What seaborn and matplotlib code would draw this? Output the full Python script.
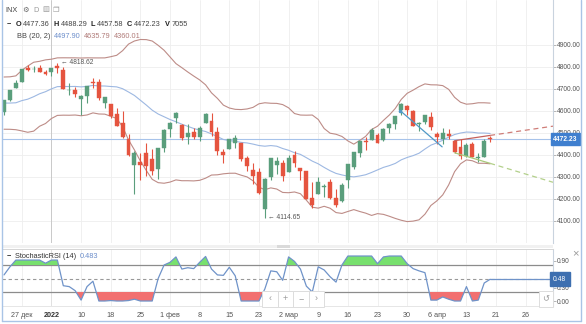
import matplotlib
matplotlib.use("Agg")
import matplotlib.pyplot as plt
from matplotlib.patches import Rectangle
from matplotlib.lines import Line2D
import numpy as np
import pandas as pd
import seaborn as sns

# ---------------- data: S&P 500 (INX), daily sessions ----------------
sessions = [
    "2021-12-21", "2021-12-22", "2021-12-23", "2021-12-27", "2021-12-28", "2021-12-29", "2021-12-30", "2021-12-31",
    "2022-01-03", "2022-01-04", "2022-01-05", "2022-01-06", "2022-01-07", "2022-01-10", "2022-01-11", "2022-01-12",
    "2022-01-13", "2022-01-14", "2022-01-18", "2022-01-19", "2022-01-20", "2022-01-21", "2022-01-24", "2022-01-25",
    "2022-01-26", "2022-01-27", "2022-01-28", "2022-01-31", "2022-02-01", "2022-02-02", "2022-02-03", "2022-02-04",
    "2022-02-07", "2022-02-08", "2022-02-09", "2022-02-10", "2022-02-11", "2022-02-14", "2022-02-15", "2022-02-16",
    "2022-02-17", "2022-02-18", "2022-02-22", "2022-02-23", "2022-02-24", "2022-02-25", "2022-02-28", "2022-03-01",
    "2022-03-02", "2022-03-03", "2022-03-04", "2022-03-07", "2022-03-08", "2022-03-09", "2022-03-10", "2022-03-11",
    "2022-03-14", "2022-03-15", "2022-03-16", "2022-03-17", "2022-03-18", "2022-03-21", "2022-03-22", "2022-03-23",
    "2022-03-24", "2022-03-25", "2022-03-28", "2022-03-29", "2022-03-30", "2022-03-31", "2022-04-01", "2022-04-04",
    "2022-04-05", "2022-04-06", "2022-04-07", "2022-04-08", "2022-04-11", "2022-04-12", "2022-04-13", "2022-04-14",
    "2022-04-18", "2022-04-19", "2022-04-20",
]
opens = [
    4594.96, 4650.36, 4703.96, 4733.99, 4795.49, 4788.64, 4794.23, 4775.21,
    4778.14, 4804.51, 4787.99, 4693.39, 4697.66, 4655.34, 4669.14, 4728.59,
    4733.56, 4637.99, 4632.24, 4588.03, 4547.35, 4471.38, 4356.32, 4366.64,
    4408.43, 4380.58, 4336.19, 4431.79, 4519.57, 4566.39, 4535.41, 4482.79,
    4505.75, 4480.02, 4547.00, 4553.24, 4506.27, 4412.61, 4429.28, 4455.75,
    4456.06, 4384.57, 4332.74, 4324.93, 4155.77, 4298.38, 4354.17, 4363.14,
    4322.56, 4401.31, 4342.12, 4327.01, 4202.66, 4223.10, 4252.55, 4279.50,
    4202.75, 4188.82, 4288.14, 4345.11, 4407.34, 4462.40, 4469.10, 4493.10,
    4469.98, 4522.66, 4541.09, 4602.86, 4624.20, 4599.02, 4540.32, 4547.97,
    4572.45, 4494.17, 4474.65, 4494.15, 4462.64, 4437.59, 4394.30, 4449.12,
    4385.63, 4390.63, 4477.36,
]
highs = [
    4651.14, 4697.67, 4740.74, 4791.49, 4807.02, 4804.06, 4808.93, 4786.83,
    4796.64, 4818.62, 4797.70, 4725.01, 4707.95, 4673.02, 4714.13, 4748.83,
    4744.13, 4665.13, 4632.24, 4611.55, 4602.11, 4494.52, 4417.35, 4411.01,
    4453.23, 4428.74, 4432.72, 4516.89, 4550.49, 4595.31, 4542.88, 4539.66,
    4521.86, 4531.32, 4590.03, 4588.92, 4526.33, 4426.22, 4472.77, 4489.55,
    4456.06, 4394.60, 4362.12, 4341.51, 4294.73, 4385.34, 4388.84, 4378.45,
    4401.48, 4416.78, 4342.12, 4327.01, 4276.94, 4299.40, 4268.28, 4291.86,
    4247.57, 4271.05, 4358.90, 4412.67, 4465.40, 4481.75, 4522.00, 4501.07,
    4520.58, 4546.03, 4575.65, 4637.30, 4627.77, 4603.07, 4548.70, 4583.50,
    4593.45, 4503.94, 4521.16, 4520.41, 4464.35, 4471.00, 4453.92, 4460.46,
    4410.31, 4471.03, 4488.29,
]
lows = [
    4583.16, 4645.53, 4703.96, 4733.99, 4780.04, 4778.08, 4775.33, 4765.75,
    4758.17, 4774.27, 4699.44, 4671.26, 4662.74, 4582.24, 4638.27, 4706.71,
    4650.29, 4614.75, 4568.70, 4530.20, 4477.95, 4395.34, 4222.62, 4287.11,
    4304.80, 4309.50, 4292.46, 4414.02, 4483.53, 4544.32, 4470.39, 4451.50,
    4471.47, 4465.40, 4547.00, 4484.31, 4401.41, 4364.84, 4429.28, 4429.68,
    4373.81, 4327.22, 4267.11, 4221.51, 4114.65, 4286.83, 4315.12, 4279.54,
    4322.56, 4345.56, 4284.98, 4199.85, 4157.87, 4223.10, 4209.80, 4200.49,
    4161.72, 4187.90, 4251.99, 4335.65, 4390.57, 4424.30, 4469.10, 4455.81,
    4465.17, 4501.07, 4517.69, 4581.18, 4581.32, 4530.41, 4507.57, 4539.21,
    4514.17, 4450.04, 4450.30, 4474.60, 4408.38, 4381.34, 4392.70, 4390.77,
    4370.30, 4390.63, 4457.58,
]
closes = [
    4649.23, 4696.56, 4725.79, 4791.19, 4786.35, 4793.06, 4778.73, 4766.18,
    4796.56, 4793.54, 4700.58, 4696.05, 4677.03, 4670.29, 4713.07, 4726.35,
    4659.03, 4662.85, 4577.11, 4532.76, 4482.73, 4397.94, 4410.13, 4356.45,
    4349.93, 4326.51, 4431.85, 4515.55, 4546.54, 4589.38, 4477.44, 4500.53,
    4483.87, 4521.54, 4587.18, 4504.08, 4418.64, 4401.67, 4471.07, 4475.01,
    4380.26, 4348.87, 4304.76, 4225.50, 4288.70, 4384.65, 4373.94, 4306.26,
    4386.54, 4363.49, 4328.87, 4201.09, 4170.70, 4277.88, 4259.52, 4204.31,
    4173.11, 4262.45, 4357.86, 4411.67, 4463.12, 4461.18, 4511.61, 4456.24,
    4520.16, 4543.06, 4575.52, 4631.60, 4602.45, 4530.41, 4545.86, 4582.64,
    4525.12, 4481.15, 4500.21, 4488.28, 4412.53, 4397.45, 4446.59, 4392.59,
    4391.69, 4462.21, 4472.23,
]
# closes of the 19 sessions before the first candle (feed the 20-day bands)
closes_before = [
    4690.70, 4701.46, 4594.62, 4655.27, 4567.00, 4513.04, 4577.10, 4538.43,
    4591.67, 4686.75, 4701.21, 4667.45, 4712.02, 4668.97, 4634.09, 4709.85,
    4668.67, 4620.64, 4568.02,
]
volume_last = 7055
stoch_rsi = [
    0.58, 0.76, 0.91, 0.91, 0.91, 0.91, 0.91, 0.84, 0.91, 0.91,
    0.34, 0.32, 0.23, 0.02, 0.32, 0.44, 0.00, 0.00, 0.01, 0.00,
    0.00, 0.01, 0.04, 0.00, 0.00, 0.00, 0.50, 0.80, 0.86, 0.98,
    0.71, 0.74, 0.72, 0.86, 0.99, 0.71, 0.58, 0.57, 0.75, 0.56,
    0.00, 0.00, 0.00, 0.00, 0.27, 0.67, 0.65, 0.46, 0.98, 0.88,
    0.71, 0.33, 0.20, 0.76, 0.69, 0.54, 0.42, 0.80, 1.00, 1.00,
    1.00, 1.00, 1.00, 0.83, 0.98, 1.00, 1.00, 1.00, 0.83, 0.72,
    0.67, 0.63, 0.02, 0.02, 0.09, 0.04, 0.00, 0.00, 0.32, 0.00,
    0.02, 0.40, 0.483,
]

# date axis: session slot -> label (last two fall in the empty space ahead)
tick_slots = [3, 8, 13, 18, 23, 28, 33, 38, 43, 48, 53, 58, 63, 68, 73, 78, 83, 88]
tick_labels = ["27 дек", "2022", "10", "18", "25", "1 фев", "8", "15", "23",
               "2 мар", "9", "16", "23", "30", "6 апр", "13", "21", "26"]
price_ticks = [4100, 4200, 4300, 4400, 4500, 4600, 4700, 4800, 4900]
stoch_ticks = [0.0, 0.3, 0.6, 0.9]

# hand-drawn trend lines (session slot, price)
trend_blue_x, trend_blue_y = [66.8, 73.9], [4602, 4437]
trend_red_x, trend_red_y = [76, 82], [4465, 4489]
trend_red_ext_x, trend_red_ext_y = [82, 92.6], [4489, 4531]
trend_green_x, trend_green_y = [76, 82], [4410, 4362]
trend_green_ext_x, trend_green_ext_y = [82, 92.6], [4362, 4276]

# ---------------- derived series ----------------
n = len(closes)
idx = np.arange(n)
o, h, l, c = map(np.array, (opens, highs, lows, closes))
hist = pd.Series(closes_before + closes)
bb_mid = hist.rolling(20).mean().iloc[len(closes_before):].to_numpy()
bb_sd = hist.rolling(20).std(ddof=0).iloc[len(closes_before):].to_numpy()
bb_up = bb_mid + 2 * bb_sd
bb_lo = bb_mid - 2 * bb_sd
stoch = np.array(stoch_rsi)

# ---------------- styling ----------------
sns.set_theme(style="white")
plt.rcParams["font.family"] = ["Liberation Sans", "DejaVu Sans"]

GREEN = "#5a9e7c"
RED = "#e5543f"
BAND = "#bd8c87"
MIDBAND = "#9db8e2"
PRICE_BLUE = "#3f7fcf"
GRID = "#eeeeee"
FRAME = "#a9c4e6"
TXT = "#444444"

W, H = 586, 324
fig = plt.figure(figsize=(W / 100, H / 100), dpi=100)
fig.patch.set_facecolor("white")


def fx(px):
    return px / W


def fy(py):
    return 1 - py / H


ax = fig.add_axes([fx(2), fy(243), (553 - 2) / W, 243 / H])
sx = fig.add_axes([fx(2), fy(306), (553 - 2) / W, (306 - 249) / H], sharex=ax)

x_lo, x_hi = -0.34, 92.6
ax.set_xlim(x_lo, x_hi)
ax.set_ylim(4000, 5104.5)
sx.set_ylim(-0.111, 1.156)

# ---------- main price panel ----------
for a in (ax, sx):
    a.set_facecolor("white")
    for s in a.spines.values():
        s.set_visible(False)
    a.spines["right"].set_visible(True)
    a.spines["right"].set_color("#c9d3de")
    a.spines["right"].set_linewidth(0.8)

for v in price_ticks:
    ax.axhline(v, color=GRID, lw=0.6, zorder=0)
for t in tick_slots:
    col = "#c9c9c9" if t == 8 else GRID
    ax.axvline(t, color=col, lw=0.7 if t == 8 else 0.6, zorder=0)
    sx.axvline(t, color=col if t != 8 else "#dcdcdc", lw=0.6, zorder=0)

# Bollinger bands (20, 2)
sns.lineplot(x=idx, y=bb_up, ax=ax, color=BAND, lw=0.8, zorder=2)
sns.lineplot(x=idx, y=bb_lo, ax=ax, color=BAND, lw=0.8, zorder=2)
sns.lineplot(x=idx, y=bb_mid, ax=ax, color=MIDBAND, lw=0.8, zorder=2)

# last price line
ax.axhline(c[-1], color="#a7c3ea", lw=0.8, zorder=1)

# candles
up = c >= o
cols = np.where(up, GREEN, RED)
ax.vlines(idx, l, h, colors=cols, lw=0.8, zorder=3)
body_lo = np.minimum(o, c)
body_h = np.maximum(np.abs(c - o), 4.0)
ax.bar(idx, body_h, bottom=body_lo, width=0.66, color=cols, edgecolor=cols,
       linewidth=0.3, zorder=4)

# extremes
i_hi = int(np.argmax(h))
i_lo = int(np.argmin(l))
ax.annotate(f"← {h[i_hi]:.2f}", xy=(i_hi, h[i_hi]), xytext=(2.5, 0),
            textcoords="offset points", va="center", ha="left",
            fontsize=4.8, color="#555555", zorder=6)
ax.annotate(f"← {l[i_lo]:.2f}", xy=(i_lo, l[i_lo]), xytext=(2.5, 0),
            textcoords="offset points", va="center", ha="left",
            fontsize=4.8, color="#555555", zorder=6)

# trend lines
ax.plot(trend_blue_x, trend_blue_y, color="#4f98c6", lw=0.9, zorder=5)
ax.plot(trend_blue_x[:1], trend_blue_y[:1], "o", color="#4f98c6", ms=1.6, zorder=5)
ax.plot(trend_red_x, trend_red_y, color="#c4615c", lw=0.9, zorder=5)
ax.plot(trend_red_ext_x, trend_red_ext_y, color="#cf7d78", lw=0.9,
        dashes=(4, 3), zorder=5)
ax.plot(trend_green_x, trend_green_y, color="#a7c97a", lw=0.9, zorder=5)
ax.plot(trend_green_ext_x, trend_green_ext_y, color="#b3d08b", lw=0.9,
        dashes=(4, 3), zorder=5)

# right price scale
ax.yaxis.tick_right()
ax.set_yticks(price_ticks)
ax.set_yticklabels([f"{v:.2f}" for v in price_ticks])
ax.tick_params(axis="y", right=True, length=2, width=0.6, color="#aaaaaa",
               pad=1, labelsize=4.8, labelcolor="#555555")
ax.tick_params(axis="x", bottom=False, labelbottom=False)
ax.set_xlabel("")
ax.set_ylabel("")
ax.text(1.0, c[-1], f"{c[-1]:.2f}", transform=ax.get_yaxis_transform(),
        ha="left", va="center", fontsize=4.9, fontweight="bold", color="white",
        bbox=dict(boxstyle="square,pad=0.35", fc=PRICE_BLUE, ec=PRICE_BLUE),
        zorder=10, clip_on=False)

# ---------- Stochastic RSI panel ----------
sx.axhline(0.8, color="#8c8c8c", lw=0.9, zorder=1)
sx.axhline(0.2, color="#8c8c8c", lw=0.9, zorder=1)
sx.axhline(0.5, color="#999999", lw=0.8, dashes=(3, 2.5), zorder=1)
sx.fill_between(idx, stoch, 0.8, where=stoch > 0.8, interpolate=True,
                color="#78e06e", lw=0, zorder=2)
sx.fill_between(idx, stoch, 0.2, where=stoch < 0.2, interpolate=True,
                color="#f27070", lw=0, zorder=2)
sns.lineplot(x=idx, y=stoch, ax=sx, color="#6f93c9", lw=0.9, zorder=3)
sx.plot([idx[-1], x_hi], [stoch[-1], stoch[-1]], color="#6f93c9", lw=0.9, zorder=3)

sx.yaxis.tick_right()
sx.set_yticks(stoch_ticks)
sx.set_yticklabels([f"{v:.2f}" for v in stoch_ticks])
sx.tick_params(axis="y", right=True, length=2, width=0.6, color="#aaaaaa",
               pad=1, labelsize=4.8, labelcolor="#555555")
sx.set_xticks(tick_slots)
sx.set_xticklabels(tick_labels)
sx.tick_params(axis="x", bottom=False, length=0, pad=4, labelsize=5.2,
               labelcolor="#555555")
for lab in sx.get_xticklabels():
    if lab.get_text() == "2022":
        lab.set_fontweight("bold")
        lab.set_color("#333333")
sx.set_xlabel("")
sx.set_ylabel("")
sx.text(1.0, stoch[-1], f"{stoch[-1]:.2f}", transform=sx.get_yaxis_transform(),
        ha="left", va="center", fontsize=4.9, color="white",
        bbox=dict(boxstyle="square,pad=0.5", fc="#3d6fb0", ec="#3d6fb0"),
        zorder=10, clip_on=False)
sx.spines["top"].set_visible(True)
sx.spines["top"].set_color("#d5d5d5")
sx.spines["top"].set_linewidth(0.7)
sx.spines["bottom"].set_visible(True)
sx.spines["bottom"].set_color("#e2e2e2")
sx.spines["bottom"].set_linewidth(0.6)

# ---------- legends ----------
renderer = fig.canvas.get_renderer()


def text_run(x_px, y_px, parts, size):
    x = x_px
    for s, color, weight, gap in parts:
        t = fig.text(fx(x), fy(y_px), s, color=color, fontsize=size,
                     fontweight=weight, va="center", ha="left", zorder=20)
        x += t.get_window_extent(renderer=renderer).width + gap


text_run(5, 10, [("INX", TXT, "normal", 5), ("⚙", "#666666", "normal", 4),
                 ("D", "#9a9a9a", "normal", 4), ("▥", "#9a9a9a", "normal", 3),
                 ("❐", "#9a9a9a", "normal", 0)], 5.3)
row2 = [("−", "#222222", "bold", 4)]
for key, val in (("O", opens[-1]), ("H", highs[-1]), ("L", lows[-1]), ("C", closes[-1])):
    row2.append((key, "#222222", "bold", 2))
    row2.append((f"{val:.2f}", TXT, "normal", 3.5))
row2.append(("V", "#222222", "bold", 2))
row2.append((f"{volume_last}", TXT, "normal", 0))
text_run(7, 24, row2, 5.3)
text_run(17, 37, [("BB (20, 2)", TXT, "normal", 3.5),
                  (f"{bb_mid[-1]:.2f}", "#6c8ecb", "normal", 3.5),
                  (f"{bb_up[-1]:.2f}", "#b07b78", "normal", 3.5),
                  (f"{bb_lo[-1]:.2f}", "#b07b78", "normal", 0)], 5.3)
text_run(7, 257, [("−", "#222222", "bold", 4),
                  ("StochasticRSI (14)", "#333333", "normal", 3.5),
                  (f"{stoch[-1]:.3f}", "#6c8ecb", "normal", 0)], 5.3)

# ---------- chrome: scrollbar, navigation buttons, frame ----------
def px_rect(x0, y0, x1, y1, **kw):
    fig.add_artist(Rectangle((fx(x0), fy(y1)), (x1 - x0) / W, (y1 - y0) / H,
                             transform=fig.transFigure, **kw))


px_rect(2, 244.5, 553, 247.5, fc="#f1f1f1", ec="none")
px_rect(277, 244.5, 290, 247.5, fc="#dadada", ec="none")
for k, sym in enumerate(["‹", "+", "−", "›"]):
    x0 = 262 + 15.5 * k
    px_rect(x0, 291, x0 + 15.5, 306.5, fc="white", ec="#dddddd", lw=0.7, zorder=15)
    fig.text(fx(x0 + 7.75), fy(298.5), sym, ha="center", va="center",
             fontsize=6.5, color="#9a9a9a", zorder=16)
px_rect(539, 291, 553, 306.5, fc="white", ec="#dddddd", lw=0.7, zorder=15)
fig.text(fx(546), fy(298.5), "↺", ha="center", va="center", fontsize=6,
         color="#9a9a9a", family=["DejaVu Sans"], zorder=16)
fig.text(fx(575), fy(253), "×", ha="center", va="center", fontsize=8,
         color="#9a9a9a", zorder=16)

for (x0, y0, x1, y1) in ((1.5, 0, 1.5, 320.5), (581, 0, 581, 320.5), (1.5, 320.5, 581, 320.5)):
    fig.add_artist(Line2D([fx(x0), fx(x1)], [fy(y0), fy(y1)], color=FRAME, lw=1.0,
                          transform=fig.transFigure))

fig.savefig("out.png", dpi=100, facecolor="white")
